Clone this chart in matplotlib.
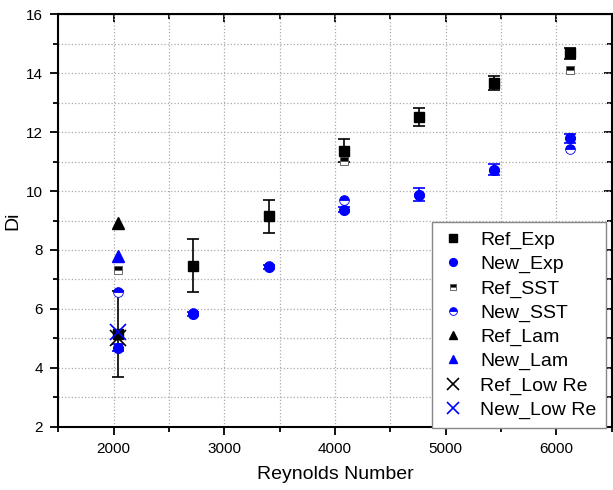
import numpy as np
import matplotlib.pyplot as plt
from matplotlib.ticker import MultipleLocator

plt.rcParams['font.family'] = ['Liberation Sans', 'DejaVu Sans']

# Reynolds numbers of the test cases
re = [2040, 2720, 3400, 4080, 4760, 5440, 6120]

# Experimental Di with error bars
ref_exp = [5.15, 7.47, 9.14, 11.37, 12.52, 13.66, 14.67]
ref_exp_err = [1.45, 0.90, 0.57, 0.40, 0.30, 0.23, 0.18]
new_exp = [4.68, 5.84, 7.42, 9.37, 9.88, 10.73, 11.79]
new_exp_err = [0.12, 0.07, 0.07, 0.08, 0.23, 0.19, 0.16]

# SST model
ref_sst = [7.33, 7.45, 9.12, 11.03, 12.48, 13.62, 14.10]
new_sst = [6.59, 5.86, 7.44, 9.71, 9.86, 10.71, 11.44]

# laminar and low-Re models (only lowest Re)
re_low = [2040]
ref_lam = [8.90]
new_lam = [7.81]
ref_lowre = [5.02]
new_lowre = [5.20]

fig = plt.figure(figsize=(6.13, 4.9), dpi=100)
ax = fig.add_axes([0.095, 0.129, 0.903, 0.842])

ax.errorbar(re, ref_exp, yerr=ref_exp_err, fmt='none', ecolor='black',
            elinewidth=1.2, capsize=4, capthick=1.2, zorder=3)
ax.errorbar(re, new_exp, yerr=new_exp_err, fmt='none', ecolor='blue',
            elinewidth=1.2, capsize=4, capthick=1.2, zorder=3)

ax.plot(re, ref_exp, 's', color='black', ms=6.5, ls='none', label='Ref_Exp', zorder=5)
ax.plot(re, new_exp, 'o', color='blue', ms=7, ls='none', label='New_Exp', zorder=5)
ax.plot(re, ref_sst, 's', ls='none', ms=6, color='black', fillstyle='top',
        markerfacecoloralt='white', markeredgecolor='#555555', mew=0.6,
        label='Ref_SST', zorder=4)
ax.plot(re, new_sst, 'o', ls='none', ms=7, color='blue', fillstyle='top',
        markerfacecoloralt='white', markeredgecolor='blue', mew=0.6,
        label='New_SST', zorder=4)
ax.plot(re_low, ref_lam, '^', color='black', ms=8, ls='none', label='Ref_Lam', zorder=5)
ax.plot(re_low, new_lam, '^', color='blue', ms=8, ls='none', label='New_Lam', zorder=5)
ax.plot(re_low, ref_lowre, 'x', color='black', ms=11, mew=1.2, ls='none',
        label='Ref_Low Re', zorder=6)
ax.plot(re_low, new_lowre, 'x', color='blue', ms=11, mew=1.2, ls='none',
        label='New_Low Re', zorder=6)

ax.set_xlim(1500, 6500)
ax.set_ylim(2, 16)
ax.xaxis.set_major_locator(MultipleLocator(1000))
ax.xaxis.set_minor_locator(MultipleLocator(500))
ax.yaxis.set_major_locator(MultipleLocator(2))
ax.yaxis.set_minor_locator(MultipleLocator(1))

ax.grid(which='both', color='#aaaaaa', ls=':', lw=0.9)
ax.set_axisbelow(True)

for s in ax.spines.values():
    s.set_linewidth(1.5)

ax.tick_params(which='both', direction='out', top=False, right=False,
               labelsize=11, width=1.3)
ax.tick_params(which='major', length=6)
ax.tick_params(which='minor', length=3.5)
ax.tick_params(axis='both', which='major', pad=5)

# inward ticks on the top and right spines
ax2 = ax.secondary_xaxis('top')
ax2.xaxis.set_major_locator(MultipleLocator(1000))
ax2.xaxis.set_minor_locator(MultipleLocator(500))
ax2.tick_params(which='both', direction='in', labeltop=False, width=1.3)
ax2.tick_params(which='major', length=6)
ax2.tick_params(which='minor', length=3.5)
ay2 = ax.secondary_yaxis('right')
ay2.yaxis.set_major_locator(MultipleLocator(2))
ay2.yaxis.set_minor_locator(MultipleLocator(1))
ay2.tick_params(which='both', direction='in', labelright=False, width=1.3)
ay2.tick_params(which='major', length=6)
ay2.tick_params(which='minor', length=3.5)

ax.set_xlabel('Reynolds Number', fontsize=14, labelpad=7)
ax.set_ylabel('Di', fontsize=14, labelpad=3)

leg = ax.legend(loc='upper left', bbox_to_anchor=(0.675, 0.497), fontsize=14,
                frameon=True, fancybox=False, edgecolor='#888888',
                framealpha=1, borderpad=0.5, labelspacing=0.33,
                handletextpad=0.8, handlelength=1.2, borderaxespad=0,
                markerscale=0.8)
leg.get_frame().set_linewidth(1.0)

fig.savefig('out.png', dpi=100)
